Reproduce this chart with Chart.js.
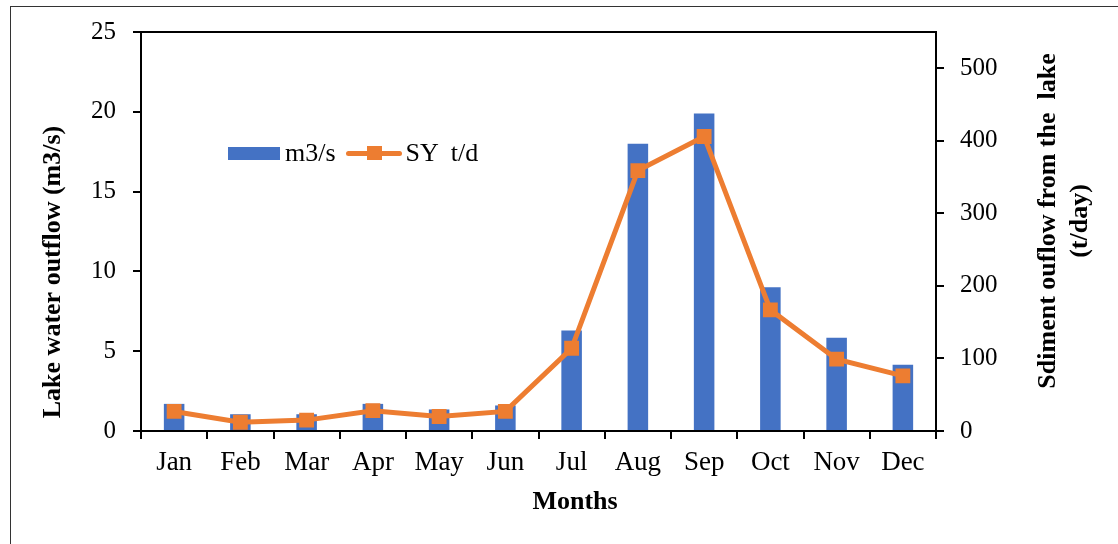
<!DOCTYPE html>
<html>
<head>
<meta charset="utf-8">
<script src="https://cdn.jsdelivr.net/npm/chart.js@4"></script>
<style>
  body { margin: 0; background: #fff; }
  #wrap { position: relative; width: 1118px; height: 544px; overflow: hidden; }
  #frame { position: absolute; left: 10px; top: 6px; width: 1200px; height: 600px;
           border-left: 1.5px solid #333; border-top: 1.5px solid #333; }
  #legend { position: absolute; left: 228px; top: 139px; height: 28px; display: flex;
            align-items: center; font: 26px "Liberation Serif"; color: #000; white-space: pre; }
  .sw-bar { width: 52px; height: 13px; background: #4472C4; margin-right: 5px; }
  .sw-line { position: relative; width: 56px; height: 14px; margin: 0 4px 0 10px; }
  .sw-line::before { content: ""; position: absolute; left: 0; right: 0; top: 5px; height: 5px;
                     background: #ED7D31; border-radius: 3px; }
  .sw-line::after { content: ""; position: absolute; left: 21px; top: 0; width: 15px; height: 14px;
                    background: #ED7D31; }
</style>
</head>
<body>
<div id="wrap">
  <div id="frame"></div>
  <canvas id="chart" width="1118" height="544"></canvas>
  <div id="legend"></div>
</div>
<script>
const months = ['Jan', 'Feb', 'Mar', 'Apr', 'May', 'Jun', 'Jul', 'Aug', 'Sep', 'Oct', 'Nov', 'Dec'];
const flowLabel = 'm3/s';
const flowValues = [1.7, 1.05, 1.05, 1.7, 1.35, 1.6, 6.3, 18.0, 19.9, 9.0, 5.85, 4.15];
const syLabel = 'SY  t/d';
const syValues = [27, 12, 15, 28, 20, 27, 114, 359, 406, 167, 99, 76];

const leftTitle = 'Lake water outflow (m3/s)';
const rightTitle = ['Sdiment ouflow from the  lake', '(t/day)'];
const xTitle = 'Months';

const serif = '"Liberation Serif", "Times New Roman", serif';
Chart.defaults.font.family = serif;
Chart.defaults.color = '#000';

// legend sits inside the plot, like the original
document.getElementById('legend').innerHTML =
    '<span class="sw-bar"></span><span>' + flowLabel + '</span>' +
    '<span class="sw-line"></span><span>' + syLabel + '</span>';

function rotText(ctx, text, x, y) {
    ctx.save();
    ctx.translate(x, y);
    ctx.rotate(-Math.PI / 2);
    ctx.fillText(text, 0, 0);
    ctx.restore();
}

const titlesPlugin = {
    id: 'titles',
    beforeDatasetsDraw(chart) {
        const { ctx, chartArea } = chart;
        ctx.save();
        ctx.strokeStyle = '#000';
        ctx.lineWidth = 2;
        ctx.beginPath();
        ctx.moveTo(chartArea.left, chartArea.top);
        ctx.lineTo(chartArea.right, chartArea.top);
        ctx.stroke();
        ctx.restore();
    },
    afterDraw(chart) {
        const ctx = chart.ctx;
        ctx.save();
        ctx.fillStyle = '#000';
        ctx.font = 'bold 26px ' + serif;
        ctx.textAlign = 'center';
        ctx.textBaseline = 'middle';
        rotText(ctx, leftTitle, 53, 272);
        rotText(ctx, rightTitle[0], 1048, 221);
        rotText(ctx, rightTitle[1], 1080, 221);
        ctx.fillText(xTitle, 575, 502);
        ctx.restore();
    }
};

const tickGrid = {
    display: true,
    drawOnChartArea: false,
    drawTicks: true,
    tickLength: 8,
    color: '#000',
    lineWidth: 2
};

new Chart(document.getElementById('chart'), {
    type: 'bar',
    data: {
        labels: months,
        datasets: [
            {
                type: 'line',
                label: syLabel,
                data: syValues,
                yAxisID: 'y2',
                order: 0,
                borderColor: '#ED7D31',
                backgroundColor: '#ED7D31',
                borderWidth: 5,
                tension: 0,
                pointStyle: 'rect',
                pointRadius: 10.5,
                pointBorderWidth: 0,
                pointBackgroundColor: '#ED7D31'
            },
            {
                type: 'bar',
                label: flowLabel,
                data: flowValues,
                yAxisID: 'y',
                order: 1,
                backgroundColor: '#4472C4',
                barPercentage: 0.31,
                categoryPercentage: 1
            }
        ]
    },
    options: {
        responsive: false,
        animation: false,
        devicePixelRatio: 1,
        layout: { padding: { top: 31, left: 0, right: 0, bottom: 0 } },
        plugins: {
            legend: { display: false },
            tooltip: { enabled: false }
        },
        scales: {
            x: {
                grid: Object.assign({ offset: true }, tickGrid),
                border: { display: true, color: '#000', width: 2 },
                ticks: { font: { size: 27 }, padding: 8, maxRotation: 0, autoSkip: false },
                afterFit: scale => { scale.height = 113; }
            },
            y: {
                position: 'left',
                min: 0,
                max: 25,
                grid: tickGrid,
                border: { display: true, color: '#000', width: 2 },
                ticks: { stepSize: 5, font: { size: 25 }, padding: 17 },
                afterFit: scale => { scale.width = 141; }
            },
            y2: {
                position: 'right',
                min: 0,
                max: 550,
                grid: tickGrid,
                border: { display: true, color: '#000', width: 2 },
                ticks: { stepSize: 100, font: { size: 25 }, padding: 16 },
                afterBuildTicks: scale => {
                    scale.ticks = scale.ticks.filter(t => t.value % 100 === 0);
                },
                afterFit: scale => { scale.width = 182; }
            }
        }
    },
    plugins: [titlesPlugin]
});
</script>
</body>
</html>
